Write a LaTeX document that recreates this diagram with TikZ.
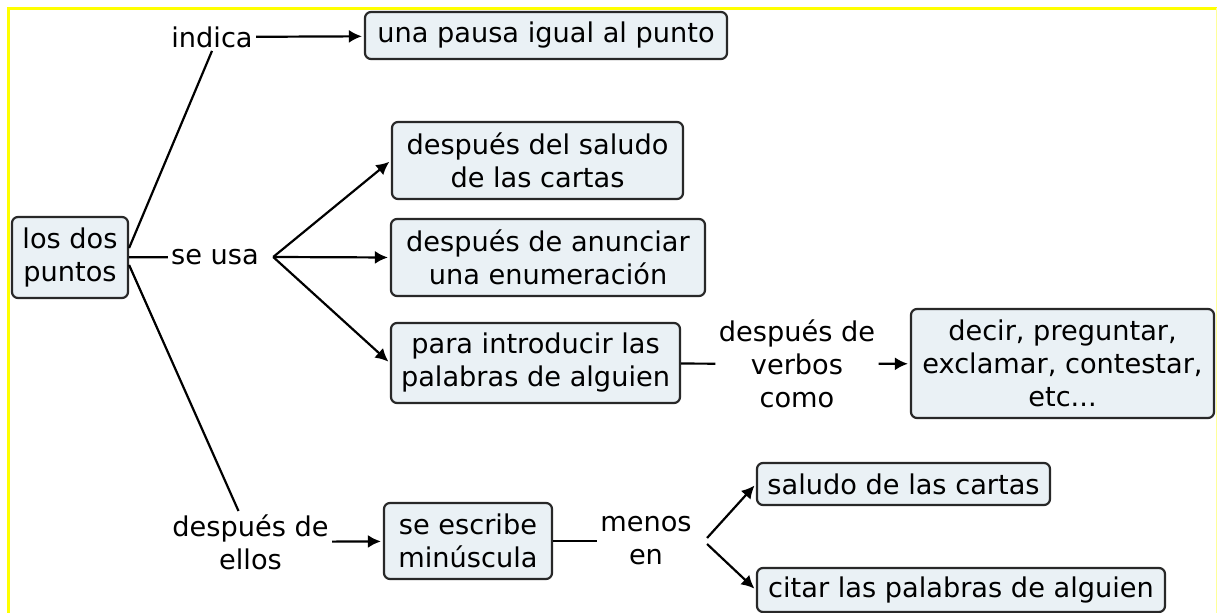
\documentclass[tikz,border=0pt]{standalone}
\usepackage{fontspec}
\setmainfont{DejaVu Sans}
\usepackage{tikz}
\usetikzlibrary{arrows.meta,%
                positioning}
\definecolor{conceptfill}{RGB}{234,241,245}
\definecolor{conceptdraw}{RGB}{40,40,40}
\definecolor{frameyellow}{RGB}{255,255,0}

\begin{document}
\begin{tikzpicture}[x=0.5pt, y=-0.5pt]
  \tikzset{ConceptStyle/.style = {shape          = rectangle,
                                  rounded corners = 3pt,
                                  draw           = conceptdraw,
                                  fill           = conceptfill,
                                  line width     = 1.1pt,
                                  align          = center,
                                  text           = black,
                                  inner sep      = 1pt,
                                  font           = \fontsize{13.6pt}{16.5pt}\selectfont}}
  \tikzset{LinkStyle/.style = {shape          = rectangle,
                               align          = center,
                               text           = black,
                               inner sep      = 1.5pt,
                               font           = \fontsize{13.6pt}{16.5pt}\selectfont}}
  \tikzset{BoxSize/.style 2 args = {minimum width = #1, minimum height = #2}}
  \tikzset{LinkLine/.style = {line width = 1.1pt, draw = black}}
  \tikzset{LinkArrow/.style = {LinkLine, -{Latex[length=6.5pt, width=6.5pt]}, shorten >=1pt}}

  \useasboundingbox (0,0) rectangle (1217,613);
  \fill[white] (0,0) rectangle (1217,613);
  %%% CADRE %%%
  \draw[frameyellow, line width=1.8pt] (8.5,613) -- (8.5,8.5) -- (1217,8.5);
  \draw[frameyellow!40, line width=0.5pt] (1216,8.5) -- (1216,613);

  %%% CONCEPTO CENTRAL %%%
  \node[ConceptStyle, BoxSize={58pt}{40.5pt}] (puntos) at (70,257.5) {los dos\\puntos};

  %%% INDICA %%%
  \node[LinkStyle] (indica) at (212,37) {indica};
  \node[ConceptStyle, BoxSize={181pt}{23.5pt}] (pausa) at (546,35.5) {una pausa igual al punto};
  \draw[LinkLine] ([yshift=4.75pt]puntos.east) -- (indica.south);
  \draw[LinkArrow] (indica) -- (pausa);

  %%% SE USA %%%
  \node[LinkStyle] (seusa) at (215,257) {se usa};
  \coordinate (usafork) at ([xshift=5.5pt]seusa.east);
  \node[ConceptStyle, BoxSize={145.5pt}{38.5pt}] (saludo) at (537.5,160.5) {después del saludo\\de las cartas};
  \node[ConceptStyle, BoxSize={157pt}{38.5pt}] (anunciar) at (548,257.5) {después de anunciar\\una enumeración};
  \node[ConceptStyle, BoxSize={144.5pt}{40pt}] (introducir) at (535.5,363) {para introducir las\\palabras de alguien};
  \draw[LinkLine] (puntos) -- (seusa);
  \draw[LinkArrow] (usafork) -- (saludo.west);
  \draw[LinkArrow] (usafork) -- (anunciar.west);
  \draw[LinkArrow] (usafork) -- (introducir.west);
  \node[LinkStyle] (verbos) at (797,364) {después de\\verbos\\como};
  \node[ConceptStyle, BoxSize={151.5pt}{54.5pt}] (decir) at (1062.5,363.5) {decir, preguntar,\\exclamar, contestar,\\etc...};
  \draw[LinkLine] (introducir) -- (verbos);
  \draw[LinkArrow] (verbos) -- (decir);

  %%% DESPUES DE ELLOS %%%
  \node[LinkStyle] (ellos) at (250.5,542) {después de\\ellos};
  \node[ConceptStyle, BoxSize={84pt}{38pt}] (minuscula) at (468,541) {se escribe\\minúscula};
  \draw[LinkLine] ([yshift=-3.75pt]puntos.east) -- ([xshift=-6pt]ellos.north);
  \draw[LinkArrow] (ellos) -- (minuscula);
  \node[LinkStyle] (menos) at (646,541) {menos\\en};
  \coordinate (menosfork) at ([xshift=6pt]menos.east);
  \node[ConceptStyle, BoxSize={146.5pt}{21pt}] (cartas) at (903.5,484) {saludo de las cartas};
  \node[ConceptStyle, BoxSize={204pt}{22pt}] (citar) at (961,590) {citar las palabras de alguien};
  \draw[LinkLine] (minuscula) -- (menos);
  \draw[LinkArrow] ([yshift=1.5pt]menosfork) -- (cartas.west);
  \draw[LinkArrow] ([yshift=-1.5pt]menosfork) -- (citar.west);
\end{tikzpicture}
\end{document}
